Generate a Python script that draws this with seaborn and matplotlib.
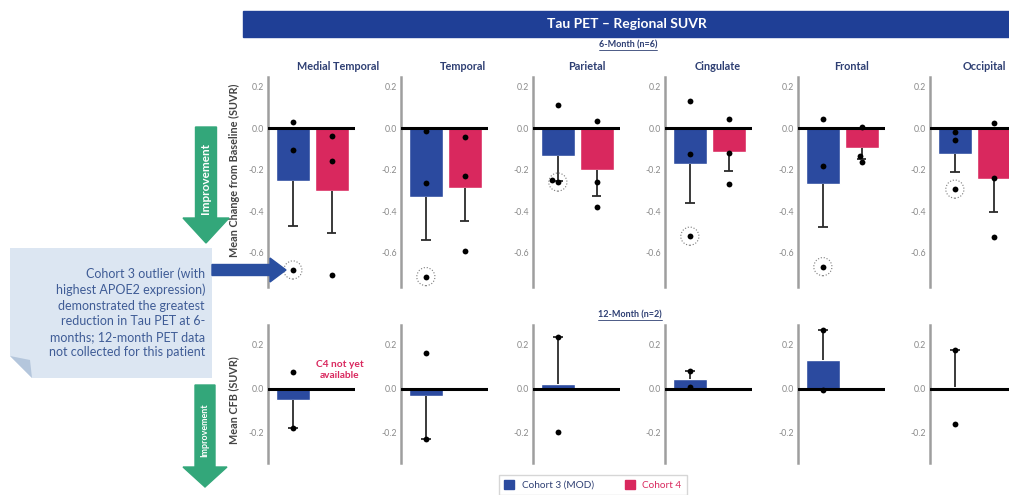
import numpy as np
import pandas as pd
import matplotlib
matplotlib.use("Agg")
import matplotlib.pyplot as plt
import seaborn as sns
from matplotlib.patches import FancyArrow, Polygon, Rectangle, Patch

# --- data ---
regions = ["Medial Temporal", "Temporal", "Parietal", "Cingulate", "Frontal", "Occipital"]
cohorts = ["Cohort 3 (MOD)", "Cohort 4"]

# 6-month change from baseline, 3 patients per cohort
# (first Cohort 3 value = the circled outlier patient)
m6_cohort3 = [
    [-0.683, 0.029, -0.104],
    [-0.715, -0.013, -0.264],
    [-0.259, 0.115, -0.251],
    [-0.520, 0.131, -0.125],
    [-0.667, 0.045, -0.179],
    [-0.293, -0.016, -0.056],
]
m6_cohort4 = [
    [-0.037, -0.157, -0.707],
    [-0.043, -0.229, -0.589],
    [0.037, -0.259, -0.381],
    [0.045, -0.120, -0.269],
    [0.008, -0.133, -0.160],
    [0.024, -0.240, -0.523],
]
# 12-month, Cohort 3 only (C4 not yet available)
m12_cohort3 = [
    [0.074, -0.182],
    [0.162, -0.229],
    [0.235, -0.198],
    [0.082, 0.008],
    [0.265, -0.005],
    [0.174, -0.164],
]
ticks_6m = [0.2, 0.0, -0.2, -0.4, -0.6]
ticks_12m = [0.2, 0.0, -0.2]

rows = []
for r, region in enumerate(regions):
    for p, v in enumerate(m6_cohort3[r]):
        rows.append(("6-Month", region, cohorts[0], p == 0, v))
    for v in m6_cohort4[r]:
        rows.append(("6-Month", region, cohorts[1], False, v))
    for v in m12_cohort3[r]:
        rows.append(("12-Month", region, cohorts[0], False, v))
df = pd.DataFrame(rows, columns=["time", "region", "cohort", "outlier", "value"])

blue, pink, navy = "#2B4A9F", "#D9285E", "#2E3F73"
palette = {cohorts[0]: blue, cohorts[1]: pink}

sns.set_style("white")
plt.rcParams["font.family"] = ["Lato", "DejaVu Sans"]

W, H = 1009, 495
fig = plt.figure(figsize=(W / 100, H / 100), dpi=100)


def px_axes(left, top, width, height):
    return fig.add_axes([left / W, 1 - (top + height) / H, width / W, height / H])


panel_left = [268, 401, 533, 665, 798, 930]
title_x = [0.8, 0.71, 0.62, 0.61, 0.62, 0.63]
swarm_axes = []


def draw_panel(ax, sub, ylim, ticks):
    sns.barplot(data=sub, x="cohort", y="value", hue="cohort", order=cohorts,
                hue_order=cohorts, palette=palette, errorbar=None, width=0.87,
                saturation=1, legend=False, ax=ax)
    # one-sided SEM error bars, pointing away from zero
    stats = sub.groupby("cohort")["value"].agg(["mean", "sem"])
    for i, c in enumerate(cohorts):
        if c not in stats.index:
            continue
        m, s = stats.loc[c, "mean"], stats.loc[c, "sem"]
        end = m + s if m >= 0 else m - s
        ax.vlines(i, m, end, color="#2b2b2b", lw=1.3, zorder=3)
        ax.hlines(end, i - 0.12, i + 0.12, color="#2b2b2b", lw=1.3, zorder=3)
    n0 = len(ax.collections)
    sns.swarmplot(data=sub, x="cohort", y="value", order=cohorts, color="black",
                  size=4.2, ax=ax, zorder=5)
    swarm_axes.append((ax, n0, sub.loc[sub["outlier"], "value"].tolist()))
    ax.axhline(0, color="black", lw=2.2, zorder=4)
    ax.set_xlim(-0.64, 1.6)
    ax.set_ylim(*ylim)
    ax.set_yticks(ticks)
    ax.set_yticklabels([f"{t:.1f}" for t in ticks])
    ax.set_xticks([])
    ax.set_xlabel("")
    ax.set_ylabel("")
    for sp in ["top", "right", "bottom"]:
        ax.spines[sp].set_visible(False)
    ax.spines["left"].set_color("#9e9e9e")
    ax.spines["left"].set_linewidth(1.8)
    ax.tick_params(axis="y", direction="inout", length=4, width=0.8, color="#9e9e9e",
                   labelsize=6.3, labelcolor="#8a8a8a", pad=1)
    ax.patch.set_alpha(0)


for i, region in enumerate(regions):
    ax = px_axes(panel_left[i], 77, 87, 210)
    draw_panel(ax, df[(df.time == "6-Month") & (df.region == region)], (-0.765, 0.248), ticks_6m)
    ax.set_title(region, x=title_x[i], pad=5, fontsize=7.8, fontweight="bold", color=navy)

    ax2 = px_axes(panel_left[i], 325, 87, 138)
    draw_panel(ax2, df[(df.time == "12-Month") & (df.region == region)], (-0.34, 0.29), ticks_12m)
    if i == 0:
        ax2.text(1.2, 0.083, "C4 not yet\navailable", ha="center", va="center",
                 fontsize=7.3, fontweight="bold", color=pink, linespacing=1.25)

fig.text(234 / W, 1 - 170 / H, "Mean Change from Baseline (SUVR)", rotation=90,
         ha="center", va="center", fontsize=7.8, fontweight="bold", color="#444444")
fig.text(234 / W, 1 - 400 / H, "Mean CFB (SUVR)", rotation=90,
         ha="center", va="center", fontsize=7.8, fontweight="bold", color="#444444")

# --- overlay in pixel coordinates for banner, callout and arrows ---
ov = fig.add_axes([0, 0, 1, 1], zorder=10)
ov.set_xlim(0, W)
ov.set_ylim(H, 0)
ov.axis("off")

ov.add_patch(Rectangle((243, 11), W - 243, 26, color="#1F3F96"))
ov.text(627, 24, "Tau PET – Regional SUVR", ha="center", va="center",
        color="white", fontsize=10, fontweight="bold")

heads = [ov.text(628, 45, "6-Month (n=6)", ha="center", va="center", fontsize=6.5,
                 fontweight="bold", color=navy),
         ov.text(630, 315, "12-Month (n=2)", ha="center", va="center", fontsize=6.5,
                 fontweight="bold", color=navy)]

# callout box with folded corner
ov.add_patch(Polygon([(10, 248), (212, 248), (212, 378), (32, 378), (10, 356)],
                     closed=True, facecolor="#DCE6F2", edgecolor="none"))
ov.add_patch(Polygon([(10, 356), (32, 378), (30, 360)], closed=True,
                     facecolor="#B4C6DC", edgecolor="none"))
ov.text(205, 313, "Cohort 3 outlier (with\nhighest APOE2 expression)\n"
        "demonstrated the greatest\nreduction in Tau PET at 6-\n"
        "months; 12-month PET data\nnot collected for this patient",
        ha="right", va="center", fontsize=9, color="#3F5C96", linespacing=1.35)

ov.add_patch(FancyArrow(212, 270, 74, 0, width=11, head_width=24, head_length=16,
                        length_includes_head=True, color="#2A4FA0"))

green = "#33A77A"
ov.add_patch(FancyArrow(206, 127, 0, 116, width=21, head_width=46, head_length=25,
                        length_includes_head=True, color=green))
ov.text(206, 178, "Improvement", rotation=90, ha="center", va="center",
        color="white", fontsize=8.5, fontweight="bold")
ov.add_patch(FancyArrow(205, 385, 0, 102, width=20, head_width=44, head_length=20,
                        length_includes_head=True, color=green))
ov.text(205, 430, "Improvement", rotation=90, ha="center", va="center",
        color="white", fontsize=6.5, fontweight="bold")

fig.legend(handles=[Patch(color=blue), Patch(color=pink)], labels=cohorts,
           loc="center", bbox_to_anchor=(593 / W, 1 - 485 / H), ncol=2, fontsize=7.2,
           frameon=True, fancybox=False, edgecolor="#cccccc", handlelength=1,
           handleheight=1, columnspacing=3, labelcolor=[navy, pink],
           borderpad=0.5)

fig.canvas.draw()

# underline the section headings
inv = ov.transData.inverted()
for t in heads:
    bb = t.get_window_extent()
    x0, y0 = inv.transform((bb.x0, bb.y0))
    x1, _ = inv.transform((bb.x1, bb.y0))
    ov.plot([x0, x1], [y0 + 0.5, y0 + 0.5], color=navy, lw=0.6)

# dotted circles around the Cohort 3 outlier patient (Cohort 3 slot only)
for ax, n0, out_vals in swarm_axes:
    for coll in ax.collections[n0:]:
        for x, y in coll.get_offsets():
            if x < 0.5 and any(np.isclose(y, v) for v in out_vals):
                ax.scatter(x, y, s=170, facecolors="none", edgecolors="#7a7a7a",
                           linewidths=0.8, linestyles=":", zorder=6)

fig.savefig("out.png", dpi=100)
